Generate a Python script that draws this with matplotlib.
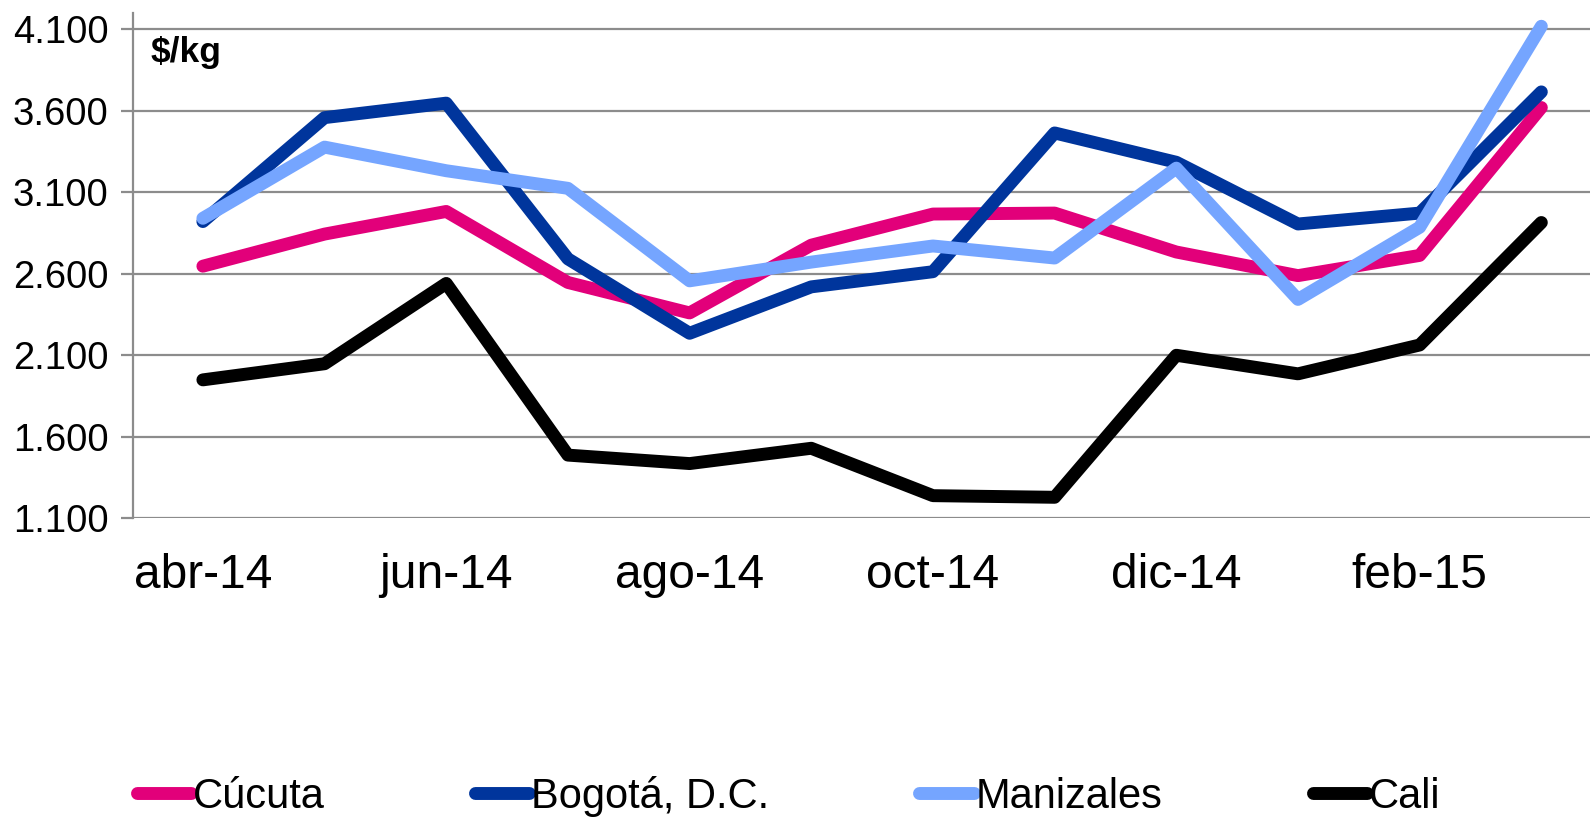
import matplotlib
matplotlib.use("Agg")
import matplotlib.pyplot as plt
from matplotlib.ticker import FuncFormatter

plt.rcParams['font.family'] = ['Liberation Sans', 'DejaVu Sans']

months = ["abr-14", "may-14", "jun-14", "jul-14", "ago-14", "sep-14",
          "oct-14", "nov-14", "dic-14", "ene-15", "feb-15", "mar-15"]
cucuta = [2646, 2843, 2982, 2546, 2359, 2775, 2966, 2972, 2733, 2588, 2712, 3620]
bogota = [2920, 3558, 3647, 2691, 2234, 2519, 2612, 3464, 3284, 2905, 2972, 3716]
manizales = [2940, 3377, 3232, 3124, 2556, 2671, 2770, 2696, 3248, 2442, 2885, 4119]
cali = [1948, 2047, 2540, 1486, 1434, 1528, 1237, 1227, 2099, 1985, 2162, 2914]

series = [("Cúcuta", cucuta, "#E2007A"),
          ("Bogotá, D.C.", bogota, "#00359C"),
          ("Manizales", manizales, "#75A5FF"),
          ("Cali", cali, "#000000")]

yticks = [1100, 1600, 2100, 2600, 3100, 3600, 4100]

fig = plt.figure(figsize=(15.9, 8.17), dpi=100)
ax = fig.add_axes([0.0836, 0.366, 0.9164, 0.618])

x = list(range(len(months)))
for name, vals, col in series:
    ax.plot(x, vals, color=col, lw=9.3, label=name,
            solid_capstyle='round', solid_joinstyle='round')

ax.set_ylim(1100, 4200)
ax.set_xlim(-0.575, 11.4)
ax.set_yticks(yticks)
ax.yaxis.set_major_formatter(FuncFormatter(lambda v, p: f"{int(v):,}".replace(",", ".")))
ax.set_xticks(x[::2])
ax.set_xticklabels(months[::2])

ax.grid(axis='y', color='#8c8c8c', lw=1.6)
ax.set_axisbelow(True)
for s in ['top', 'right', 'bottom']:
    ax.spines[s].set_visible(False)
ax.spines['left'].set_color('#8c8c8c')
ax.spines['left'].set_linewidth(1.6)
ax.tick_params(axis='y', length=8.6, width=1.6, color='#8c8c8c', pad=9, labelsize=27.5)
ax.tick_params(axis='x', length=0, pad=25, labelsize=34.5)

ax.text(0.012, 0.955, "$/kg", transform=ax.transAxes, fontsize=25.5,
        fontweight='bold', ha='left', va='top')

fig.legend(loc='center', bbox_to_anchor=(0.496, 0.025), ncol=4, frameon=False,
           fontsize=30, handlelength=1.3, handletextpad=0.05, columnspacing=3.6,
           borderpad=0, borderaxespad=0)

fig.savefig("out.png", dpi=100)
